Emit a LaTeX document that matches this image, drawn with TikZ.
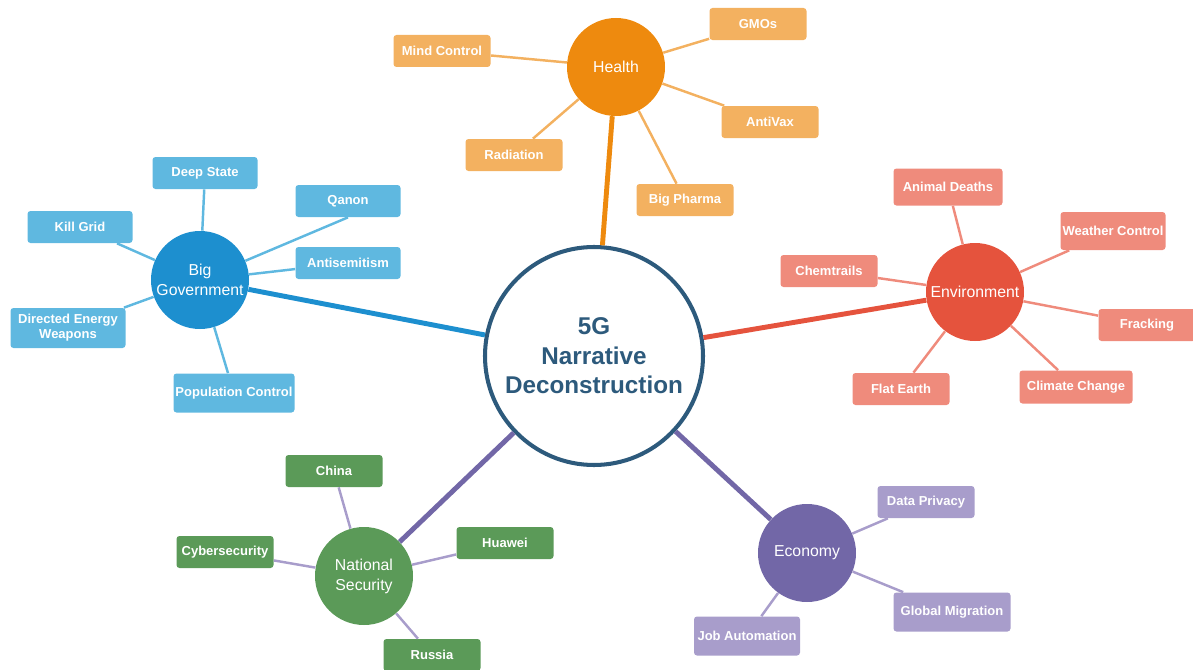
\documentclass[tikz,border=0pt]{standalone}
\usepackage{fontspec}
\setmainfont{Liberation Sans}
\usepackage{tikz}

\definecolor{hubblue}{HTML}{2D5A7C}
\definecolor{healthdark}{HTML}{EE8A0E}
\definecolor{healthlight}{HTML}{F3B160}
\definecolor{govdark}{HTML}{1D8FCF}
\definecolor{govlight}{HTML}{5FB8E0}
\definecolor{envdark}{HTML}{E5533D}
\definecolor{envlight}{HTML}{EF8B7C}
\definecolor{secgreen}{HTML}{5B9A58}
\definecolor{econdark}{HTML}{7267A7}
\definecolor{econlight}{HTML}{A89DCB}

\begin{document}
\begin{tikzpicture}[
    hub/.style={circle,draw=hubblue,line width=2.3pt,fill=white,
      minimum size=4.36cm,inner sep=0pt,align=center,text=hubblue,
      font=\fontsize{13.8}{16.8}\selectfont\bfseries},
    topic/.style={circle,fill=#1,minimum size=1.96cm,inner sep=0pt,
      align=center,text=white,font=\fontsize{9}{11.4}\selectfont},
    leaf/.style={rectangle,rounded corners=1.7pt,fill=#1,
      minimum width=1.94cm,minimum height=0.64cm,inner sep=1pt,
      align=center,text=white,font=\fontsize{7.4}{8.5}\selectfont\bfseries},
    trunk/.style={line width=2.8pt,draw=#1},
    twig/.style={line width=1.4pt,draw=#1}
  ]
    \useasboundingbox (0,0) rectangle (23.86,13.38);

    % hub and the five topics round it
    \node[hub] (hub) at (11.88,6.26) {5G\\Narrative\\Deconstruction};
    \node[topic=healthdark] (health) at (12.32,12.04) {Health};
    \node[topic=govdark] (gov) at (4.00,7.78) {Big\\Government};
    \node[topic=envdark] (env) at (19.50,7.54) {Environment};
    \node[topic=secgreen] (sec) at (7.28,1.86) {National\\Security};
    \node[topic=econdark] (econ) at (16.14,2.32) {Economy};

    \draw[trunk=healthdark] (health) -- (hub);
    \draw[trunk=govdark] (gov) -- (hub);
    \draw[trunk=envdark] (env) -- (hub);
    \draw[trunk=econdark] (sec) -- (hub);
    \draw[trunk=econdark] (econ) -- (hub);

    % Health
    \node[leaf=healthlight] (gmo) at (15.16,12.90) {GMOs};
    \node[leaf=healthlight] (mind) at (8.84,12.36) {Mind Control};
    \node[leaf=healthlight] (antivax) at (15.40,10.94) {AntiVax};
    \node[leaf=healthlight] (radiation) at (10.28,10.28) {Radiation};
    \node[leaf=healthlight] (pharma) at (13.70,9.38) {Big Pharma};
    \foreach \leafname in {gmo,mind,antivax,radiation,pharma}
      \draw[twig=healthlight] (\leafname) -- (health);

    % Big Government
    \node[leaf=govlight,minimum width=2.1cm] (deepstate) at (4.10,9.92)
      {Deep State};
    \node[leaf=govlight,minimum width=2.1cm] (qanon) at (6.96,9.36) {Qanon};
    \node[leaf=govlight,minimum width=2.1cm] (killgrid) at (1.60,8.84)
      {Kill Grid};
    \node[leaf=govlight,minimum width=2.1cm] (antisem) at (6.96,8.12)
      {Antisemitism};
    \node[leaf=govlight,minimum width=2.3cm,minimum height=0.8cm] (dew)
      at (1.36,6.82) {Directed Energy\\Weapons};
    \node[leaf=govlight,minimum width=2.42cm,minimum height=0.78cm] (popctrl)
      at (4.68,5.52) {Population Control};
    \foreach \leafname in {deepstate,killgrid,antisem,dew,popctrl}
      \draw[twig=govlight] (\leafname) -- (gov);
    \draw[twig=govlight] (qanon.south) -- (gov);

    % Environment
    \node[leaf=envlight,minimum width=2.18cm,minimum height=0.74cm]
      (animal) at (18.96,9.64) {Animal Deaths};
    \node[leaf=envlight,minimum width=2.1cm,minimum height=0.76cm]
      (weather) at (22.26,8.76) {Weather Control};
    \node[leaf=envlight] (chem) at (16.58,7.96) {Chemtrails};
    \node[leaf=envlight] (fracking) at (22.94,6.88) {Fracking};
    \node[leaf=envlight] (flatearth) at (18.02,5.60) {Flat Earth};
    \node[leaf=envlight,minimum width=2.26cm,minimum height=0.66cm]
      (climate) at (21.52,5.64) {Climate Change};
    \foreach \leafname in {animal,weather,chem,fracking,flatearth,climate}
      \draw[twig=envlight] (\leafname) -- (env);

    % National Security
    \node[leaf=secgreen] (china) at (6.68,3.96) {China};
    \node[leaf=secgreen] (cyber) at (4.50,2.34) {Cybersecurity};
    \node[leaf=secgreen] (huawei) at (10.10,2.52) {Huawei};
    \node[leaf=secgreen] (russia) at (8.64,0.28) {Russia};
    \foreach \leafname in {china,cyber,huawei,russia}
      \draw[twig=econlight] (\leafname) -- (sec);

    % Economy
    \node[leaf=econlight] (privacy) at (18.52,3.34) {Data Privacy};
    \node[leaf=econlight,minimum width=2.34cm,minimum height=0.78cm]
      (migration) at (19.04,1.14) {Global Migration};
    \node[leaf=econlight,minimum width=2.12cm,minimum height=0.78cm]
      (jobauto) at (14.94,0.66) {Job Automation};
    \foreach \leafname in {privacy,migration,jobauto}
      \draw[twig=econlight] (\leafname) -- (econ);
\end{tikzpicture}
\end{document}
